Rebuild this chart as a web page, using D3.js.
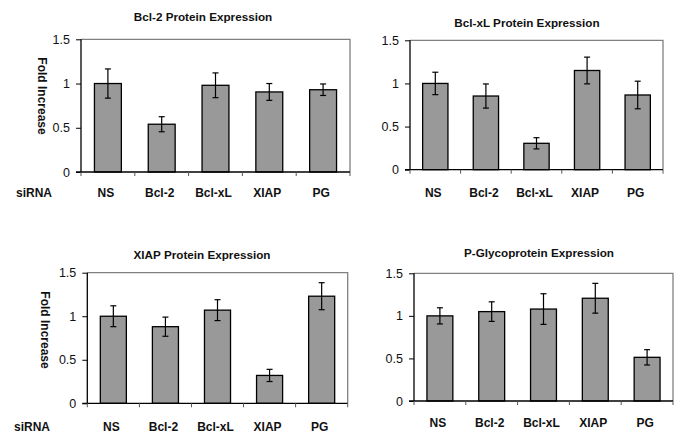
<!DOCTYPE html>
<html><head><meta charset="utf-8">
<script src="https://cdn.jsdelivr.net/npm/d3@7"></script>
<style>html,body{margin:0;padding:0;background:#fff;}svg{display:block;}</style>
</head><body>
<script>
const categories = ["NS", "Bcl-2", "Bcl-xL", "XIAP", "PG"];
const titles = ["Bcl-2 Protein Expression", "Bcl-xL Protein Expression", "XIAP Protein Expression", "P-Glycoprotein Expression"];
const yTicks = [0, 0.5, 1, 1.5];
const yTickLabels = ["0", "0.5", "1", "1.5"];
const bcl2Values = [1.0, 0.54, 0.98, 0.905, 0.93];
const bcl2Errors = [0.165, 0.085, 0.14, 0.095, 0.065];
const bclxlValues = [1.0, 0.854, 0.306, 1.15, 0.866];
const bclxlErrors = [0.13, 0.14, 0.065, 0.155, 0.16];
const xiapValues = [1.0, 0.88, 1.07, 0.32, 1.23];
const xiapErrors = [0.12, 0.11, 0.12, 0.07, 0.155];
const pgpValues = [1.0, 1.05, 1.08, 1.207, 0.513];
const pgpErrors = [0.095, 0.115, 0.18, 0.175, 0.09];
const yLabelText = "Fold Increase";
const xLabelText = "siRNA";

const seriesValues = [bcl2Values, bclxlValues, xiapValues, pgpValues];
const seriesErrors = [bcl2Errors, bclxlErrors, xiapErrors, pgpErrors];

// layout per panel
const panels = [
  {l:81, r:350, t:39.3, b:172, tx:203, ty:17, ylab:{x:42,y:96}, sirna:{x:16,y:193}, ly:193},
  {l:410, r:663, t:40.3, b:169.7, tx:527, ty:23, ylab:null, sirna:null, ly:193},
  {l:87.3, r:347.7, t:272.7, b:403.3, tx:202, ty:255, ylab:{x:45,y:330}, sirna:{x:14,y:427}, ly:427},
  {l:414, r:673, t:273.3, b:401, tx:539, ty:253, ylab:null, sirna:null, ly:423}
];

const svg = d3.select("body").append("svg").attr("width",685).attr("height",443)
  .style("font-family","'Liberation Sans', Arial, sans-serif");

panels.forEach((p,i)=>{
  const g = svg.append("g");
  const x = d3.scaleBand().domain(categories).range([p.l,p.r]).paddingInner(0.5).paddingOuter(0.25);
  const xb = d3.scaleBand().domain(categories).range([p.l,p.r]);
  const y = d3.scaleLinear().domain([0,1.5]).range([p.b,p.t]);

  // frame (top & right)
  g.append("path").attr("d",`M${p.l},${p.t}H${p.r}V${p.b}`).attr("fill","none").attr("stroke","#808080").attr("stroke-width",1.3);

  const data = categories.map((c,k)=>({c, v:seriesValues[i][k], e:seriesErrors[i][k]}));
  g.selectAll("rect.bar").data(data).enter().append("rect")
    .attr("x",d=>x(d.c)).attr("width",x.bandwidth())
    .attr("y",d=>y(d.v)).attr("height",d=>y(0)-y(d.v))
    .attr("fill","#999999").attr("stroke","#000").attr("stroke-width",1.3);

  // error bars
  const eg = g.selectAll("g.err").data(data).enter().append("g").attr("stroke","#000").attr("stroke-width",1.2);
  eg.append("line").attr("x1",d=>x(d.c)+x.bandwidth()/2).attr("x2",d=>x(d.c)+x.bandwidth()/2)
    .attr("y1",d=>y(d.v+d.e)).attr("y2",d=>y(d.v-d.e));
  eg.append("line").attr("x1",d=>x(d.c)+x.bandwidth()/2-3).attr("x2",d=>x(d.c)+x.bandwidth()/2+3)
    .attr("y1",d=>y(d.v+d.e)).attr("y2",d=>y(d.v+d.e));
  eg.append("line").attr("x1",d=>x(d.c)+x.bandwidth()/2-3).attr("x2",d=>x(d.c)+x.bandwidth()/2+3)
    .attr("y1",d=>y(d.v-d.e)).attr("y2",d=>y(d.v-d.e));

  // y axis
  const ya = d3.axisLeft(y).tickValues(yTicks).tickFormat((d,k)=>yTickLabels[k]).tickSize(5).tickPadding(6);
  const yg = g.append("g").attr("transform",`translate(${p.l},0)`).call(ya);
  yg.select(".domain").attr("stroke","#000").attr("stroke-width",1.3).attr("d",`M-0,${p.b}V${p.t}`);
  yg.selectAll(".tick line").attr("stroke","#000");
  yg.selectAll("text").attr("font-size",12.5).attr("fill","#111").style("font-family","'Liberation Sans Narrow','Liberation Sans',Arial,sans-serif");

  // x axis
  g.append("line").attr("x1",p.l-5).attr("x2",p.r).attr("y1",p.b).attr("y2",p.b).attr("stroke","#000").attr("stroke-width",1.3);
  const bounds = categories.map(c=>xb(c)).concat([p.r]);
  g.selectAll("line.xt").data(bounds).enter().append("line")
    .attr("x1",d=>d).attr("x2",d=>d).attr("y1",p.b).attr("y2",p.b+4).attr("stroke","#555").attr("stroke-width",1);

  g.selectAll("text.cat").data(categories).enter().append("text")
    .attr("x",d=>xb(d)+xb.bandwidth()/2-2).attr("y",p.ly).attr("dy","0.35em")
    .attr("text-anchor","middle").attr("font-size",12).attr("font-weight","bold").attr("fill","#111")
    .text(d=>d);

  g.append("text").attr("x",p.tx).attr("y",p.ty).attr("dy","0.35em").attr("text-anchor","middle")
    .attr("font-size",11.7).attr("font-weight","bold").attr("fill","#111").text(titles[i]);

  if(p.ylab){
    g.append("text").attr("transform",`translate(${p.ylab.x},${p.ylab.y}) rotate(90)`).attr("dy","0.35em")
      .attr("text-anchor","middle").attr("font-size",12).attr("font-weight","bold").attr("fill","#111").text(yLabelText);
  }
  if(p.sirna){
    g.append("text").attr("x",p.sirna.x).attr("y",p.sirna.y).attr("dy","0.35em")
      .attr("font-size",12).attr("font-weight","bold").attr("fill","#111").text(xLabelText);
  }
});
</script>
</body></html>
